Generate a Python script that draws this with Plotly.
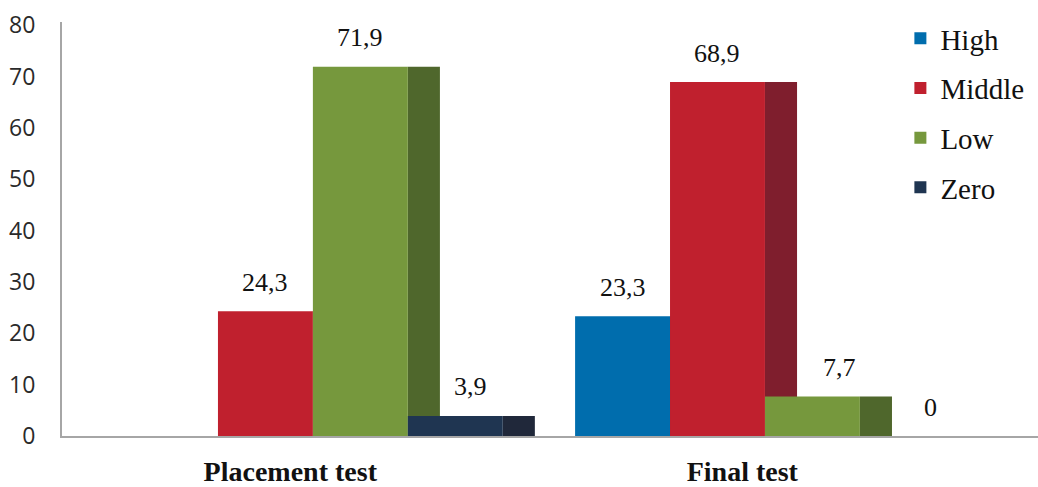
import plotly.graph_objects as go

# Share of students per level, in percent
tests = ["Placement test", "Final test"]
levels = ["High", "Middle", "Low", "Zero"]
high = [None, 23.3]
middle = [24.3, 68.9]
low = [71.9, 7.7]
zero = [3.9, 0]
series = [high, middle, low, zero]

y_ticks = [0, 10, 20, 30, 40, 50, 60, 70, 80]

# Face and side colours per level
front_colors = ["#006DAD", "#C0202E", "#76983D", "#1F3551"]
side_colors = ["#004A75", "#7F1E2D", "#4F672C", "#20283A"]

bar_w = 0.21      # width of each bar's front face, in category units
side_w = 0.071    # depth face drawn to the right of each bar
label_xshift = [[0, 0], [0, 0], [0, 27], [15, 23]]  # px nudges of value labels

centers = list(range(len(tests)))

fig = go.Figure()
for i, (name, vals) in enumerate(zip(levels, series)):
    front_off = -2 * bar_w + i * bar_w
    ys = [0 if v is None else v for v in vals]
    # darker depth face, partly hidden by the next bar
    fig.add_trace(go.Bar(
        x=centers, y=ys, offset=front_off + bar_w, width=side_w,
        marker=dict(color=side_colors[i], line=dict(width=0)),
        legendgroup=name, showlegend=False, hoverinfo="skip",
    ))
    fig.add_trace(go.Bar(
        x=centers, y=ys, offset=front_off, width=bar_w, name=name,
        marker=dict(color=front_colors[i], line=dict(width=0)),
        legendgroup=name,
    ))
    for c, v, dx in zip(centers, vals, label_xshift[i]):
        if v is None:
            continue
        fig.add_annotation(
            x=c + front_off + bar_w / 2, y=v, xref="x", yref="y",
            text=f"{v:g}".replace(".", ","), showarrow=False,
            xanchor="center", yanchor="middle", xshift=dx, yshift=29,
            font=dict(family="Liberation Serif", size=26, color="#111111"),
        )

fig.update_layout(
    width=1038, height=487,
    margin=dict(l=62, r=0, t=22, b=47),
    paper_bgcolor="white", plot_bgcolor="white",
    barmode="overlay",
    showlegend=True,
    legend=dict(
        x=0.859, y=1.022, xanchor="left", yanchor="top",
        font=dict(family="Liberation Serif", size=29, color="#111111"),
        tracegroupgap=9, itemwidth=30, bgcolor="rgba(0,0,0,0)",
    ),
    xaxis=dict(
        range=[-0.555, 1.604],
        tickvals=[c - 0.05 for c in centers], ticktext=tests,
        tickfont=dict(family="Liberation Serif", size=28, color="#111111",
                      weight="bold"),
        showline=True, linecolor="#A6A6A6", linewidth=2,
        showgrid=False, zeroline=False, ticks="", ticklabelstandoff=9,
    ),
    yaxis=dict(
        range=[0, 80.6], tickvals=y_ticks,
        tickfont=dict(family="Open Sans", size=23, color="#2A2A2A"),
        showline=True, linecolor="#A6A6A6", linewidth=2,
        showgrid=False, zeroline=False, ticks="", ticklabelstandoff=20,
    ),
)

fig.write_html("out.html")
